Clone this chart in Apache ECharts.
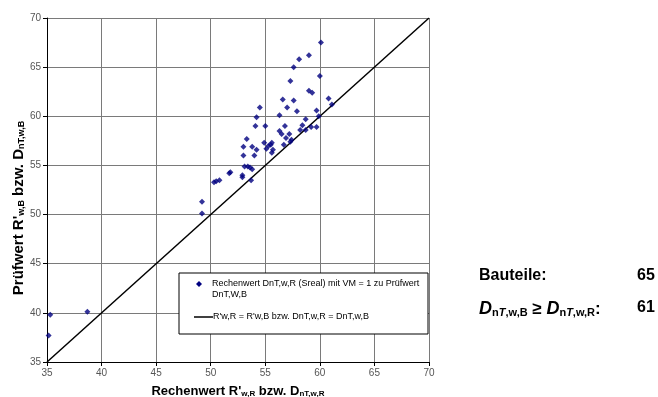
<!DOCTYPE html>
<html><head><meta charset="utf-8">
<script src="https://cdn.jsdelivr.net/npm/echarts@6/dist/echarts.min.js"></script>
<style>html,body{margin:0;padding:0;background:#fff}#c{width:658px;height:397px}</style>
</head><body><div id="c"></div>
<script>
// Rechenwert (x) and Prüfwert (y) per Bauteil
var rechenwert = [60.1,59.0,58.1,57.6,57.3,60.0,59.0,59.3,56.6,57.6,60.8,61.1,54.5,57.0,57.9,59.7,54.2,56.3,59.9,58.7,54.1,55.0,56.8,58.4,59.2,59.7,58.7,58.2,56.3,57.2,56.5,56.9,53.3,57.4,57.3,54.9,55.6,55.5,55.3,56.7,53.0,53.8,54.2,55.1,55.7,55.6,53.0,54.0,53.1,53.4,53.6,53.8,52.9,52.9,53.7,51.7,51.8,50.3,50.5,50.8,49.2,49.2,35.3,35.15,38.7];
var pruefwert  = [67.5,66.2,65.8,65.0,63.6,64.1,62.6,62.4,61.7,61.6,61.8,61.2,60.9,60.9,60.5,60.6,59.9,60.1,60.0,59.7,59.0,59.0,59.0,59.1,58.9,58.9,58.6,58.6,58.5,58.2,58.2,57.8,57.7,57.6,57.4,57.3,57.3,57.1,57.0,57.1,56.9,56.9,56.6,56.7,56.6,56.3,56.0,56.0,54.9,54.9,54.8,54.6,54.0,53.8,53.5,54.2,54.3,53.3,53.4,53.5,51.3,50.1,39.8,37.7,40.1];
var lineX = [35, 70];
var lineY = [35, 70];
var axisTicks = [35,40,45,50,55,60,65,70];
var seriesNames = ["Rechenwert DnT,w,R (Sreal) mit VM = 1 zu Prüfwert\nDnT,W,B", "R'w,R = R'w,B bzw. DnT,w,R = DnT,w,B"];
var summaryLabels = ["Bauteile:", "D_nT,w,B ≥ D_nT,w,R:"];
var summaryValues = [65, 61];

var pts = rechenwert.map(function(x,i){return [x, pruefwert[i]];});
var linePts = lineX.map(function(x,i){return [x, lineY[i]];});
var FONT = '"Liberation Sans", Arial, sans-serif';
var chart = echarts.init(document.getElementById('c'));
var titleRich = {
  b: {fontFamily: FONT, fontWeight: 'bold', fontSize: 13, color: '#000', fill: '#000', verticalAlign: 'bottom', lineHeight: 16},
  s: {fontFamily: FONT, fontWeight: 'bold', fontSize: 8, color: '#000', fill: '#000', verticalAlign: 'bottom', lineHeight: 13}
};
var yRich = {
  b: {fontFamily: FONT, fontWeight: 'bold', fontSize: 15, fill: '#000', verticalAlign: 'bottom', lineHeight: 18},
  s: {fontFamily: FONT, fontWeight: 'bold', fontSize: 9, fill: '#000', verticalAlign: 'bottom', lineHeight: 14}
};
var axisCommon = {
  type: 'value', min: axisTicks[0], max: axisTicks[axisTicks.length-1], interval: 5,
  axisLine: {show: true, lineStyle: {color: '#000', width: 1}},
  axisTick: {show: true, length: 4, lineStyle: {color: '#000'}},
  splitLine: {show: true, lineStyle: {color: '#7a7a7a', width: 1}},
  axisLabel: {fontFamily: FONT, fontSize: 10, color: '#555', margin: 6},
  nameLocation: 'middle'
};
chart.setOption({
  animation: false,
  backgroundColor: '#fff',
  grid: {left: 47, top: 18, width: 382, height: 344, containLabel: false, outerBoundsMode: 'none'},
  xAxis: Object.assign({}, axisCommon, {
    name: '{b|Rechenwert R\'}{s|w,R}{b| bzw. D}{s|nT,w,R}',
    nameGap: 20,
    nameTextStyle: {rich: titleRich}
  }),
  yAxis: Object.assign({}, axisCommon, {}),
  series: [
    {name: seriesNames[0], type: 'scatter', data: pts, symbol: 'diamond', symbolSize: 6,
     itemStyle: {color: '#000080'}, z: 3},
    {name: seriesNames[1], type: 'line', data: linePts, symbol: 'none',
     lineStyle: {color: '#000', width: 1.5}, z: 2}
  ],
  graphic: [
    {type: 'text', x: 17, y: 208, rotation: Math.PI / 2, style: {
      text: '{b|Prüfwert R\'}{s|w,B}{b| bzw. D}{s|nT,w,B}', align: 'center', verticalAlign: 'middle', rich: yRich}},
    {type: 'rect', shape: {x: 179, y: 273, width: 249, height: 61}, z: 10,
     style: {fill: '#fff', stroke: '#000', lineWidth: 1}},
    {type: 'polygon', shape: {points: [[199,281],[202,284],[199,287],[196,284]]}, z: 11, style: {fill: '#000080'}},
    {type: 'text', x: 212, y: 278, z: 11, style: {text: seriesNames[0], font: '9px ' + FONT, fill: '#000', lineHeight: 11}},
    {type: 'line', shape: {x1: 194, y1: 317, x2: 213, y2: 317}, z: 11, style: {stroke: '#000', lineWidth: 1.5}},
    {type: 'text', x: 213, y: 312, z: 11, style: {text: seriesNames[1], font: '9px ' + FONT, fill: '#000'}},
    {type: 'text', x: 479, y: 268, style: {text: summaryLabels[0], font: 'bold 16px ' + FONT, fill: '#000'}},
    {type: 'text', x: 637, y: 268, style: {text: String(summaryValues[0]), font: 'bold 16px ' + FONT, fill: '#000'}},
    {type: 'text', x: 479, y: 298, style: {
      text: '{d|D}{s|n}{si|T}{s|,w,B}{t| ≥ }{d|D}{s|n}{si|T}{s|,w,R}{t|:}',
      rich: {
        d: {fontFamily: FONT, fontStyle: 'italic', fontWeight: 'bold', fontSize: 18, fill: '#000', verticalAlign: 'bottom', lineHeight: 20},
        t: {fontFamily: FONT, fontWeight: 'bold', fontSize: 17, fill: '#000', verticalAlign: 'bottom', lineHeight: 20},
        s: {fontFamily: FONT, fontWeight: 'bold', fontSize: 11, fill: '#000', verticalAlign: 'bottom', lineHeight: 15},
        si: {fontFamily: FONT, fontStyle: 'italic', fontWeight: 'bold', fontSize: 11, fill: '#000', verticalAlign: 'bottom', lineHeight: 15}
      }}},
    {type: 'text', x: 637, y: 300, style: {text: String(summaryValues[1]), font: 'bold 16px ' + FONT, fill: '#000'}}
  ]
});
</script></body></html>
